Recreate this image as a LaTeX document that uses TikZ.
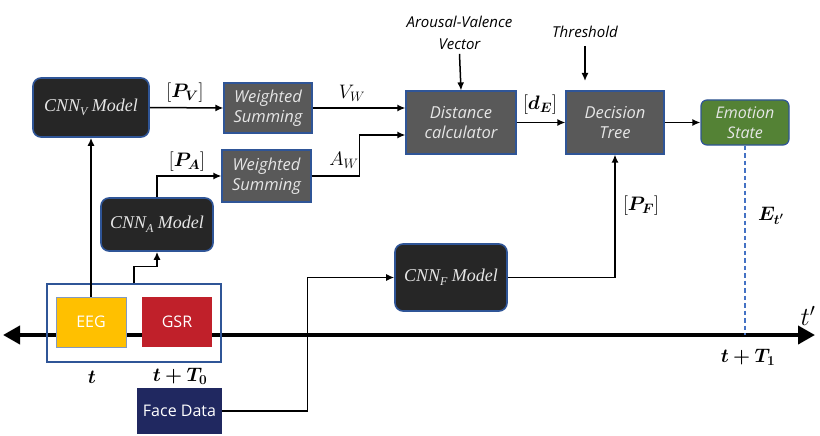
\RequirePackage{fix-cm}
\documentclass[tikz,border=0pt]{standalone}
\usepackage{fontspec}
\usepackage{bm}
\usetikzlibrary{arrows.meta,calc}
\newfontfamily\osans{Open Sans}
\newfontfamily\libser{Liberation Serif}
\newcommand{\modeltxt}[1]{{\libser\itshape CNN\raisebox{-3.5pt}{\fontsize{12}{12}\selectfont #1}\ Model}}
\definecolor{bordblue}{RGB}{47,85,151}
\definecolor{darkfill}{RGB}{38,38,38}
\definecolor{grayfill}{RGB}{89,89,89}
\definecolor{eegyel}{RGB}{255,192,0}
\definecolor{gsrred}{RGB}{192,32,42}
\definecolor{facenavy}{RGB}{32,40,96}
\definecolor{emogreen}{RGB}{84,130,53}
\definecolor{dashblue}{RGB}{68,114,196}
\definecolor{boxtext}{RGB}{230,230,230}
\tikzset{
  darkbox/.style={draw=bordblue,line width=1.6pt,fill=darkfill,rounded corners=8pt,
    text=boxtext,inner sep=0pt,font=\fontsize{18}{20}\selectfont},
  graybox/.style={draw=bordblue,line width=1.2pt,fill=grayfill,inner sep=0pt,
    text=boxtext,align=center,font=\osans\itshape\fontsize{16.5}{20}\selectfont},
  emobox/.style={draw=bordblue,line width=1.2pt,fill=emogreen,rounded corners=6pt,inner sep=0pt,
    text=boxtext,align=center,font=\osans\itshape\fontsize{16}{20}\selectfont},
  srcbox/.style={inner sep=0pt,text=white,font=\osans\fontsize{16}{19}\selectfont},
  arr/.style={line width=1.5pt,-{Latex[length=8pt,width=7pt]}},
  mlabel/.style={inner sep=0pt,font=\fontsize{19.5}{22}\selectfont},
  itlabel/.style={inner sep=0pt,align=center,font=\osans\itshape\fontsize{15}{22}\selectfont}
}
\begin{document}
\begin{tikzpicture}[x=1pt,y=-1pt]
\useasboundingbox (0,0) rectangle (820,436);
% time axis
\coordinate (axl) at (3,335);
\coordinate (axr) at (815,335);
\draw[line width=4pt,{Triangle[length=17pt,width=18pt]}-{Triangle[length=17pt,width=18pt]}] (axl) -- (axr);
% frame and sources
\node[draw=bordblue,line width=1.2pt,minimum width=174pt,minimum height=78pt,inner sep=0pt] (frame) at (134,323) {};
\node[srcbox,draw=bordblue!60,line width=0.8pt,fill=eegyel,minimum width=70pt,minimum height=50pt] (eeg) at (91,322) {EEG};
\node[srcbox,fill=gsrred,minimum width=70pt,minimum height=50pt] (gsr) at (177,322) {GSR};
\node[srcbox,fill=facenavy,minimum width=85pt,minimum height=46pt] (face) at (179.5,411) {Face Data};
% models
\node[darkbox,minimum width=116pt,minimum height=59pt] (cnnv) at (91,107.5) {\modeltxt{V}};
\node[darkbox,minimum width=112pt,minimum height=53pt] (cnna) at (157,224.5) {\modeltxt{A}};
\node[darkbox,minimum width=112pt,minimum height=67pt] (cnnf) at (451,277.5) {\modeltxt{F}};
\node[graybox,minimum width=88pt,minimum height=50pt] (ws1) at (268,108) {Weighted\\Summing};
\node[graybox,minimum width=89pt,minimum height=52pt] (ws2) at (266.5,176) {Weighted\\Summing};
\node[graybox,minimum width=110pt,minimum height=63pt] (dist) at (461,122.5) {Distance\\calculator};
\node[graybox,minimum width=98pt,minimum height=63pt] (dt) at (615,122.5) {Decision\\Tree};
\node[emobox,minimum width=88pt,minimum height=45pt] (emo) at (745,122.5) {Emotion\\State};
% top inputs
\node[itlabel] (av) at (459.5,33) {Arousal-Valence\\Vector};
\node[itlabel] (thr) at (585,32) {Threshold};
\coordinate (thrend) at (585,81);
\draw[arr] ([yshift=-4pt]av.south) -- (dist.north);
\draw[arr] ([yshift=-8pt]thr.south) -- (thrend);
% connectors
\draw[arr] (eeg.north) -- (cnnv.south);
\draw[arr] (frame.north) -- ++(0,-17) -| (cnna.south);
\draw[arr] (cnna.north) |- (ws2.west);
\draw[arr] (cnnv.east) -- (ws1.west);
\draw[arr] (ws1.east) -- (dist.west |- ws1.east);
\draw[arr] (ws2.east) -- ++(48,0) |- ([yshift=-12.5pt]dist.west);
\draw[arr] (dist.east) -- (dt.west);
\draw[arr] (dt.east) -- (emo.west);
\draw[arr] (cnnf.east) -| (dt.south);
\draw[arr,line width=1.3pt] (face.east) -- ++(85,0) |- (cnnf.west);
\coordinate (tone) at (emo.south |- axr);
\draw[dashblue,line width=1.1pt,dash pattern=on 4.5pt off 3pt] (emo.south) -- (tone);
% labels
\node[mlabel] (lpv) at (185,93) {$[\bm{P_V}]$};
\node[mlabel] (lpa) at (187,162) {$[\bm{P_A}]$};
\node[mlabel] (lvw) at (352,93) {$V_W$};
\node[mlabel] (law) at (344,160) {$A_W$};
\node[mlabel] (lde) at (540,105) {$[\bm{d_E}]$};
\node[mlabel] (lpf) at (641,206) {$[\bm{P_F}]$};
\node[mlabel] (let) at (771,216) {$\bm{E_{t'}}$};
\node[inner sep=0pt,font=\fontsize{26}{28}\selectfont] (ltp) at (808,316) {$t'$};
\node[mlabel] (lt1) at (748,357) {$\bm{t+T_1}$};
\node[mlabel] (lt) at (92,377) {$\bm{t}$};
\node[mlabel] (lt0) at (180,376) {$\bm{t+T_0}$};
\end{tikzpicture}
\end{document}
